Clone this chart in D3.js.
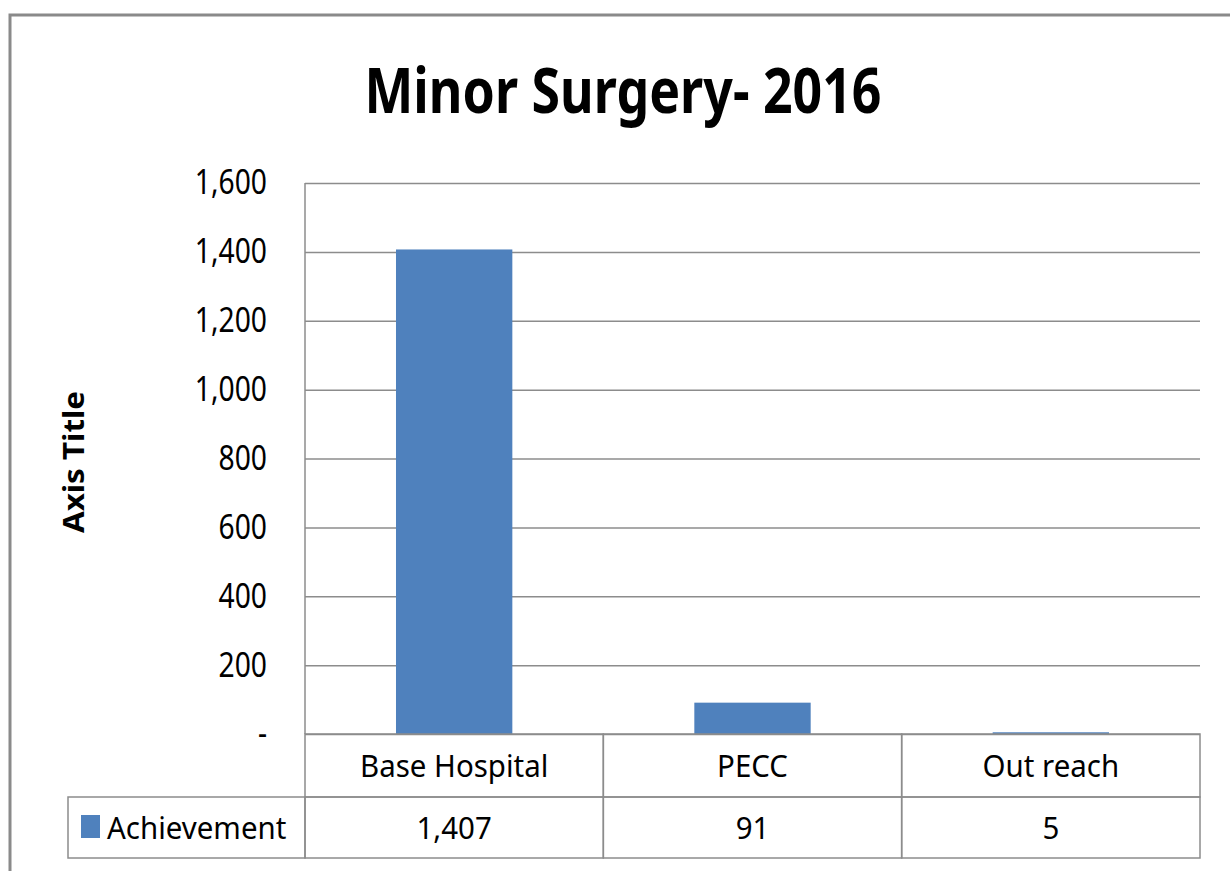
<!DOCTYPE html>
<head>
    <meta charset="utf-8">
    <title>Minor Surgery- 2016</title>
    <style>
        body { margin: 0; background: #fff; }
        text { font-family: "Noto Sans", "Open Sans", sans-serif; fill: #000; }
        .tick text { font-size: 34px; }
        .tick line { stroke: #8c8c8c; stroke-width: 1.5; }
        .domain { display: none; }
        .cell { stroke: #8c8c8c; stroke-width: 1.5; fill: none; }
        .tbl { font-size: 31px; }
    </style>
    <script src="https://cdn.jsdelivr.net/npm/d3@7"></script>
</head>
<body>
    <script>
        var categories = ["Base Hospital", "PECC", "Out reach"];
        var achievement = [1407, 91, 5];
        var seriesName = "Achievement";
        var yTicks = [0, 200, 400, 600, 800, 1000, 1200, 1400, 1600];

        var W = 1230, H = 871;
        var margin = { top: 183, right: 30, bottom: 137, left: 305 },
            width = 1200 - margin.left,
            height = 734 - margin.top;
        var rowH = 63;

        // squeeze text a bit so it looks like the narrow office font
        function condense(sel, k) {
            sel.each(function () {
                var len = this.getComputedTextLength();
                d3.select(this)
                    .attr("textLength", len * k)
                    .attr("lengthAdjust", "spacingAndGlyphs");
            });
        }

        var svg = d3.select("body").append("svg")
            .attr("width", W)
            .attr("height", H);

        // outer chart border (runs off the right and bottom edge)
        svg.append("rect")
            .attr("x", 10).attr("y", 15)
            .attr("width", 1240).attr("height", 900)
            .attr("fill", "none")
            .attr("stroke", "#8a8a8a")
            .attr("stroke-width", 3);

        svg.append("text")
            .attr("x", 623).attr("y", 113)
            .attr("text-anchor", "middle")
            .style("font-size", "63px")
            .style("font-weight", "bold")
            .attr("textLength", 517)
            .attr("lengthAdjust", "spacingAndGlyphs")
            .text("Minor Surgery- 2016");

        svg.append("text")
            .attr("transform", "translate(84,462) rotate(-90)")
            .attr("text-anchor", "middle")
            .style("font-size", "28px")
            .style("font-weight", "bold")
            .attr("textLength", 142)
            .attr("lengthAdjust", "spacingAndGlyphs")
            .text("Axis Title");

        var x = d3.scaleBand()
            .domain(categories)
            .range([0, width])
            .paddingInner(0)
            .paddingOuter(0);

        var y = d3.scaleLinear()
            .domain([0, 1600])
            .range([height, 0]);

        var plot = svg.append("g")
            .attr("transform", "translate(" + margin.left + "," + margin.top + ")");

        var fmt = d3.format(",");
        var yAxis = plot.append("g")
            .call(d3.axisLeft(y)
                .tickValues(yTicks)
                .tickSize(-width)
                .tickPadding(38)
                .tickFormat(function (d) { return d === 0 ? "-" : fmt(d); }));
        yAxis.selectAll(".tick line").attr("x1", 0);
        condense(yAxis.selectAll(".tick text"), 0.83);

        // left plot edge
        plot.append("line")
            .attr("x1", 0).attr("x2", 0)
            .attr("y1", 0).attr("y2", height)
            .attr("stroke", "#8c8c8c").attr("stroke-width", 1.5);

        var barW = x.bandwidth() * 0.39;
        plot.selectAll("rect.bar")
            .data(achievement)
            .enter()
            .append("rect")
            .attr("class", "bar")
            .attr("x", function (d, i) { return x(categories[i]) + (x.bandwidth() - barW) / 2; })
            .attr("y", function (d) { return y(d); })
            .attr("width", barW)
            .attr("height", function (d) { return height - y(d); })
            .attr("fill", "#4f81bd");

        // data table
        var table = plot.append("g").attr("transform", "translate(0," + height + ")");
        var legendLeft = 68 - margin.left;

        categories.forEach(function (c, i) {
            table.append("rect").attr("class", "cell")
                .attr("x", x(c)).attr("y", 0)
                .attr("width", x.bandwidth()).attr("height", rowH);
            table.append("rect").attr("class", "cell")
                .attr("x", x(c)).attr("y", rowH)
                .attr("width", x.bandwidth()).attr("height", rowH - 2);
            table.append("text")
                .attr("class", "tbl")
                .attr("x", x(c) + x.bandwidth() / 2)
                .attr("y", 43)
                .attr("text-anchor", "middle")
                .text(c);
            table.append("text")
                .attr("class", "tbl")
                .attr("x", x(c) + x.bandwidth() / 2)
                .attr("y", rowH + 42)
                .attr("text-anchor", "middle")
                .text(fmt(achievement[i]));
        });

        table.append("rect").attr("class", "cell")
            .attr("x", legendLeft).attr("y", rowH)
            .attr("width", -legendLeft).attr("height", rowH - 2);
        table.append("rect")
            .attr("x", legendLeft + 13).attr("y", rowH + 18)
            .attr("width", 19).attr("height", 23)
            .attr("fill", "#4f81bd");
        table.append("text")
            .attr("class", "tbl")
            .attr("x", legendLeft + 39)
            .attr("y", rowH + 42)
            .text(seriesName);

        condense(table.selectAll("text"), 0.95);
    </script>
</body>
